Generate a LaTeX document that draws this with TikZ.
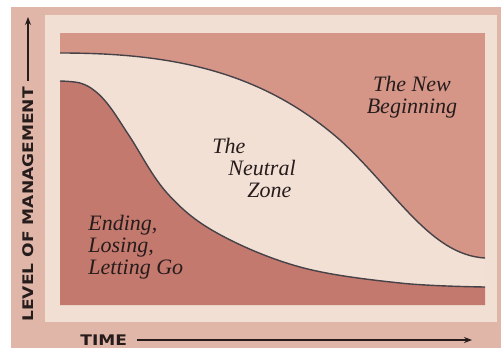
\documentclass[tikz,border=0pt]{standalone}
\usepackage{fontspec}
\setmainfont{Liberation Serif}
\newfontfamily\axisfont{DejaVu Sans}
\usetikzlibrary{arrows.meta,positioning}
\definecolor{outerpink}{RGB}{224,182,168}
\definecolor{framelight}{RGB}{241,223,212}
\definecolor{newbeg}{RGB}{213,150,136}
\definecolor{ending}{RGB}{195,121,109}
\definecolor{neutral}{RGB}{242,224,213}
\definecolor{ink}{RGB}{38,28,28}
\definecolor{edge}{RGB}{70,66,72}

\begin{document}
\begin{tikzpicture}[
        x=0.5pt, y=-0.5pt,
        zonelabel/.style={font=\fontsize{11}{11}\selectfont\itshape, text=ink, inner sep=0pt},
        axislabel/.style={font=\axisfont\bfseries\fontsize{7.3}{7.3}\selectfont, text=ink, inner sep=0pt},
        axisarrow/.style={draw=ink, line width=0.6pt, -{Stealth[length=4pt,width=3pt]}},
        boundary/.style={draw=edge, line width=0.7pt},
    ]
        \useasboundingbox (0,0) rectangle (501,348);

        % Background frames
        \fill[white] (0,0) rectangle (501,348);
        \fill[outerpink] (11,7) rectangle (501,348);
        \fill[framelight] (45,15) rectangle (497,322);

        % Plot area (new beginning on top)
        \fill[newbeg] (60,33) rectangle (485,305);
        \fill[neutral] (60,53) .. controls (170,53) and (260,70) .. (340,140)
            .. controls (395,190) and (430,255) .. (485,258)
            -- (485,305) -- (60,305) -- cycle;
        \fill[ending] plot[smooth, tension=0.6] coordinates {(60,81) (80,83) (95,91) (110,107) (130,137) (167,193) (217,233) (300,267) (400,283) (485,287)}
            -- (485,305) -- (60,305) -- cycle;

        % Boundaries between the zones
        \draw[boundary] (60,53) .. controls (170,53) and (260,70) .. (340,140)
            .. controls (395,190) and (430,255) .. (485,258);
        \draw[boundary] plot[smooth, tension=0.6] coordinates {(60,81) (80,83) (95,91) (110,107) (130,137) (167,193) (217,233) (300,267) (400,283) (485,287)};

        % Zone labels
        \node[zonelabel, align=center, anchor=north] (newbegin) at (412,76) {The New\\Beginning};
        \node[zonelabel, align=left, anchor=north west] (neutralzone) at (212,138) {The\\\hspace*{8pt}Neutral\\\hspace*{17.5pt}Zone};
        \node[zonelabel, align=left, anchor=north west] (endingzone) at (88,215) {Ending,\\Losing,\\Letting Go};

        % Axes
        \node[axislabel, rotate=90, anchor=west] (level) at (28,322) {\scalebox{1.17}[1]{LEVEL OF MANAGEMENT}};
        \coordinate (leveltop) at (28,17);
        \draw[axisarrow] ([yshift=3pt]level.east) -- (leveltop);

        \node[axislabel, anchor=west] (time) at (80,340) {\scalebox{1.17}[1]{TIME}};
        \coordinate (timeend) at (472,340);
        \draw[axisarrow] ([xshift=5pt]time.east) -- (timeend);
    \end{tikzpicture}
\end{document}
